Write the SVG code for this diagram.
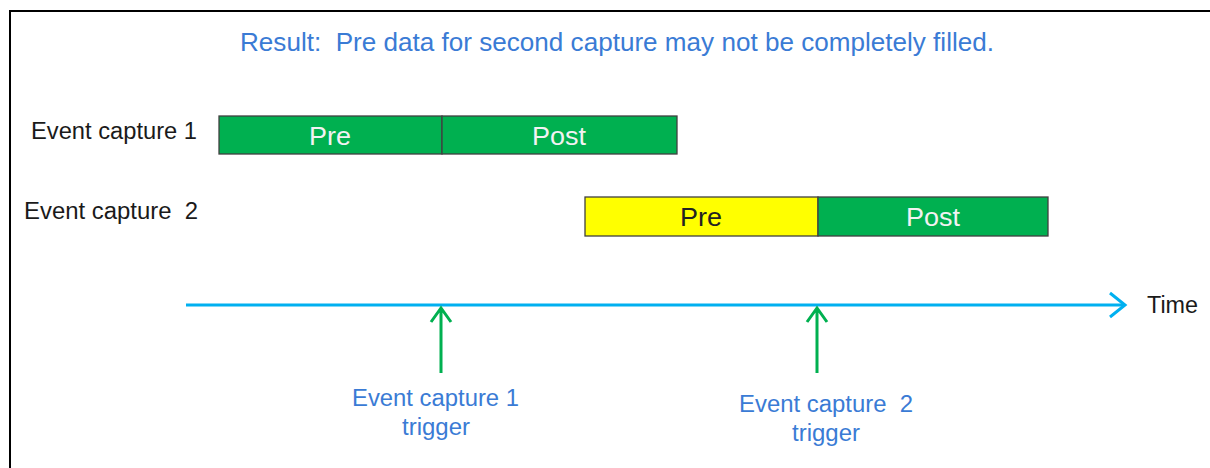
<svg xmlns="http://www.w3.org/2000/svg" width="1210" height="468" viewBox="0 0 1210 468">
<style>
text{font-family:"Liberation Sans",Arial,sans-serif}
.lbl{font-size:23px;fill:#1a1a1a}
.blue{font-size:23px;fill:#3a7bd5}
.title{font-size:25px;fill:#3a7bd5}
.seg{stroke:#404040;stroke-width:1.3}
.g{fill:#00b050}
.y{fill:#ffff00}
.wt{font-size:25px;fill:#f2f2f2;text-anchor:middle}
.bt{font-size:25px;fill:#222;text-anchor:middle}
.tl{stroke:#00b0f0;stroke-width:3;fill:none}
.ga{stroke:#00b050;stroke-width:3;fill:none}
</style>
<rect width="1210" height="468" fill="#fff"/>
<path d="M1210 11H10V468" fill="none" stroke="#000" stroke-width="2"/>
<text x="240" y="51" class="title" textLength="754" lengthAdjust="spacingAndGlyphs" xml:space="preserve">Result:  Pre data for second capture may not be completely filled.</text>
<g id="capture1">
<text x="31" y="139" class="lbl" textLength="166" lengthAdjust="spacingAndGlyphs">Event capture 1</text>
<rect x="219" y="116" width="223" height="38" class="g seg"/>
<rect x="442" y="116" width="235" height="38" class="g seg"/>
<text x="330" y="145" class="wt" textLength="42" lengthAdjust="spacingAndGlyphs">Pre</text>
<text x="559" y="145" class="wt" textLength="54" lengthAdjust="spacingAndGlyphs">Post</text>
</g>
<g id="capture2">
<text x="24" y="219" class="lbl" textLength="174" lengthAdjust="spacingAndGlyphs" xml:space="preserve">Event capture  2</text>
<rect x="585" y="197" width="233" height="39" class="y seg"/>
<rect x="818" y="197" width="230" height="39" class="g seg"/>
<text x="701" y="226" class="bt" textLength="42" lengthAdjust="spacingAndGlyphs">Pre</text>
<text x="933" y="226" class="wt" textLength="54" lengthAdjust="spacingAndGlyphs">Post</text>
</g>
<g id="connectors">
<path d="M186 305H1124" class="tl"/>
<path d="M1110 293L1125 305L1110 317" class="tl"/>
<path d="M441 373V308M431 322L441 308L451 322" class="ga"/>
<path d="M817 373V308M807 322L817 308L827 322" class="ga"/>
</g>
<g id="time"><text x="1147" y="313" class="lbl" textLength="51" lengthAdjust="spacingAndGlyphs">Time</text></g>
<g id="trigger1">
<text x="352" y="406" class="blue" textLength="167" lengthAdjust="spacingAndGlyphs">Event capture 1</text>
<text x="402" y="435" class="blue" textLength="68" lengthAdjust="spacingAndGlyphs">trigger</text>
</g>
<g id="trigger2">
<text x="739" y="412" class="blue" textLength="174" lengthAdjust="spacingAndGlyphs" xml:space="preserve">Event capture  2</text>
<text x="792" y="441" class="blue" textLength="68" lengthAdjust="spacingAndGlyphs">trigger</text>
</g>
</svg>
